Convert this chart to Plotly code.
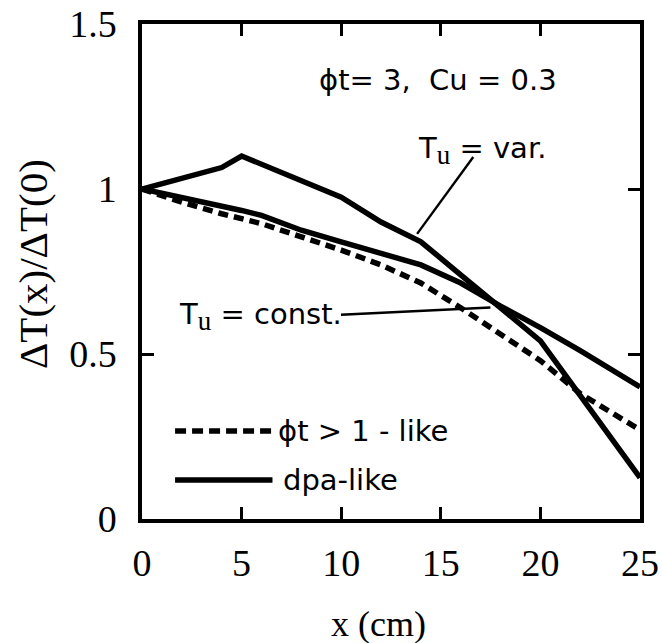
import plotly.graph_objects as go

# Normalised temperature difference along the sample, x in cm
x_var = [0, 4, 5, 10, 12, 14, 16, 18, 20, 25]
y_var = [1.0, 1.065, 1.10, 0.975, 0.90, 0.84, 0.74, 0.64, 0.54, 0.125]

x_const = [0, 4, 5, 6, 8, 10, 12, 14, 16, 18, 20, 22, 25]
y_const = [1.0, 0.95, 0.935, 0.92, 0.875, 0.84, 0.805, 0.77, 0.715, 0.645, 0.58, 0.51, 0.40]

x_phit = [0, 2, 4, 6, 8, 10, 12, 14, 16, 18, 20, 22, 24, 25]
y_phit = [1.0, 0.96, 0.925, 0.895, 0.855, 0.815, 0.77, 0.715, 0.64, 0.56, 0.48, 0.38, 0.305, 0.27]

x_ticks = [0, 5, 10, 15, 20, 25]
y_ticks = [0, 0.5, 1, 1.5]
y_ticklabels = ["0", "0.5", "1", "1.5"]

SANS = "DejaVu Sans"
SERIF = "Liberation Serif"
LW = 5.5

fig = go.Figure()
fig.add_trace(go.Scatter(x=x_phit, y=y_phit, mode="lines",
                         line=dict(color="black", width=LW, dash="10px,6px")))
fig.add_trace(go.Scatter(x=x_const, y=y_const, mode="lines",
                         line=dict(color="black", width=LW)))
fig.add_trace(go.Scatter(x=x_var, y=y_var, mode="lines",
                         line=dict(color="black", width=LW)))

axis_common = dict(
    showgrid=False, zeroline=False, showline=True, linecolor="black",
    linewidth=3.5, mirror="ticks", ticks="inside", ticklen=12, tickwidth=3,
    tickcolor="black", tickfont=dict(family=SERIF, size=38, color="black"),
)
fig.update_xaxes(range=[0, 25], tickvals=x_ticks, ticklabelstandoff=8, **axis_common)
fig.update_yaxes(range=[0, 1.5], tickvals=y_ticks, ticktext=y_ticklabels,
                 ticklabelstandoff=14, **axis_common)

# in-plot legend samples
fig.add_shape(type="line", xref="x", yref="y", x0=1.66, x1=6.5, y0=0.267, y1=0.267,
              line=dict(color="black", width=LW, dash="11px,6px"))
fig.add_shape(type="line", xref="x", yref="y", x0=1.66, x1=6.55, y0=0.118, y1=0.118,
              line=dict(color="black", width=LW))

# leader lines to the curve labels
fig.add_shape(type="line", xref="x", yref="y", x0=16.63, y0=1.097, x1=13.81, y1=0.864,
              line=dict(color="black", width=2.4))
fig.add_shape(type="line", xref="x", yref="y", x0=9.99, y0=0.619, x1=17.49, y1=0.641,
              line=dict(color="black", width=2.4))

u_sub = "<sub><span style='font-family:Liberation Serif;font-size:27px'>u</span></sub>"
anns = [
    dict(x=14.86, y=1.33, text="\u03d5t= 3,  Cu = 0.3", xanchor="center", yanchor="middle"),
    dict(x=13.75, y=1.118, text="T" + u_sub + " = var.", xanchor="left", yanchor="middle"),
    dict(x=1.75, y=0.615, text="T" + u_sub + " = const.", xanchor="left", yanchor="middle"),
    dict(x=6.75, y=0.267, text="\u03d5t &gt; 1 - like", xanchor="left", yanchor="middle"),
    dict(x=7.0, y=0.118, text="dpa-like", xanchor="left", yanchor="middle"),
]
for a in anns:
    fig.add_annotation(xref="x", yref="y", showarrow=False,
                       font=dict(family=SANS, size=29, color="black"), **a)

fig.add_annotation(xref="paper", yref="paper", x=0.474, y=-0.212, text="x (cm)",
                   showarrow=False, xanchor="center", yanchor="middle",
                   font=dict(family=SERIF, size=36, color="black"))
fig.add_annotation(xref="paper", yref="paper", x=-0.219, y=0.515,
                   text="\u0394T(x)/\u0394T(0)", textangle=-90, showarrow=False,
                   xanchor="center", yanchor="middle",
                   font=dict(family=SERIF, size=41, color="black"))

fig.update_layout(
    width=663, height=643, showlegend=False,
    margin=dict(l=142, r=23, t=24, b=124, autoexpand=False),
    paper_bgcolor="white", plot_bgcolor="white",
)

fig.write_html("out.html")
